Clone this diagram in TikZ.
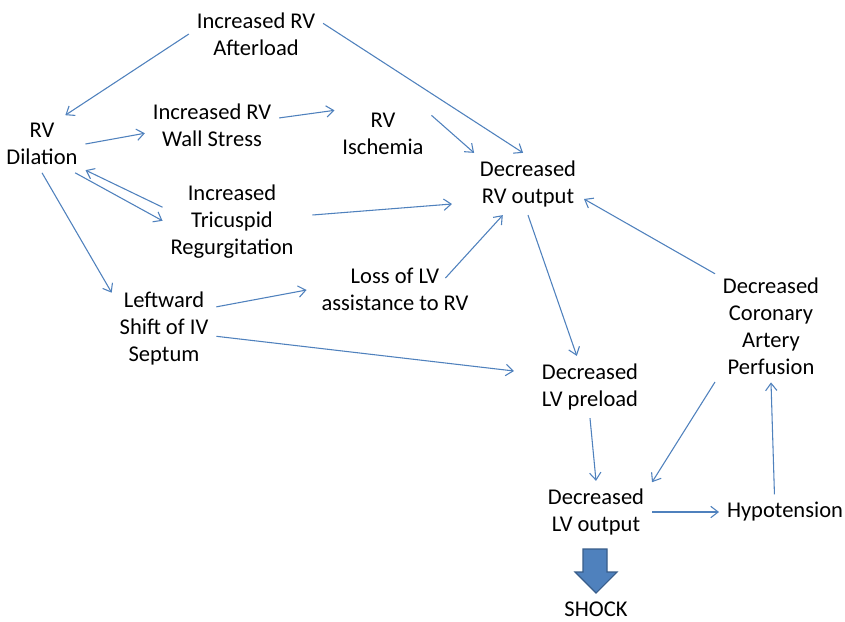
\documentclass[tikz,border=0pt]{standalone}
\usepackage{fontspec}
\setmainfont{Carlito}
\usetikzlibrary{arrows.meta}
\definecolor{linkblue}{RGB}{79,129,189}
\definecolor{shockedge}{RGB}{56,93,138}
\begin{document}
\begin{tikzpicture}[x=0.75pt,y=-0.75pt,
		box/.style={align=center,inner sep=0pt,outer sep=6pt,font=\myfontnodes},
		link/.style={draw=linkblue,line width=0.8pt,-{Straight Barb[length=5.5pt,width=8.5pt]}}]
	\newcommand{\myfontnodes}{\fontsize{16.9}{20.25}\selectfont}
	%Canvas
	\useasboundingbox[fill=white] (0,0) rectangle (845,621);
	%Positions of the boxes
	\coordinate (pafterload) at (256,34);
	\coordinate (pdilation) at (42,144);
	\coordinate (pwallstress) at (212,125);
	\coordinate (pischemia) at (383,134);
	\coordinate (prvout) at (528,184);
	\coordinate (ptricuspid) at (232,222);
	\coordinate (ploss) at (395,289);
	\coordinate (pleftward) at (164,328);
	\coordinate (ppreload) at (590,387);
	\coordinate (pcoronary) at (771,326);
	\coordinate (plvout) at (596,512);
	\coordinate (phypo) at (785,512);
	\coordinate (pshock) at (596,609);
	%The boxes
	\node [box] (afterload) at (pafterload) {Increased RV\\Afterload};
	\node [box] (dilation) at (pdilation) {RV\\Dilation};
	\node [box] (wallstress) at (pwallstress) {Increased RV\\Wall Stress};
	\node [box] (ischemia) at (pischemia) {RV\\Ischemia};
	\node [box] (rvout) at (prvout) {Decreased\\RV output};
	\node [box] (tricuspid) at (ptricuspid) {Increased\\Tricuspid\\Regurgitation};
	\node [box] (loss) at (ploss) {Loss of LV\\assistance to RV};
	\node [box] (leftward) at (pleftward) {Leftward\\Shift of IV\\Septum};
	\node [box] (preload) at (ppreload) {Decreased\\LV preload};
	\node [box] (coronary) at (pcoronary) {Decreased\\Coronary\\Artery\\Perfusion};
	\node [box] (lvout) at (plvout) {Decreased\\LV output};
	\node [box] (hypo) at (phypo) {Hypotension};
	\node [box] (shock) at (pshock) {SHOCK};
	%Arrows on the right ventricle side
	\draw [link] (afterload.180) -- (dilation.51);
	\draw [link] (afterload.9) -- (rvout.99);
	\draw [link] (dilation.0) -- (wallstress.187);
	\draw [link] (wallstress.6) -- (ischemia.154);
	\draw [link] (ischemia.21) -- (rvout.150);
	\draw [link] (tricuspid.168) -- (dilation.329);
	\draw [link] (dilation.319) -- (tricuspid.179);
	\draw [link] ([shift={(11,-7)}]tricuspid.east) -- ([shift={(-20,20)}]rvout.west);
	\draw [link] (dilation.270) -- (leftward.146);
	\draw [link] (leftward.22) -- ([shift={(-7,1)}]loss.west);
	\draw [link] ([shift={(-31,-11)}]loss.east) -- (rvout.231);
	%Arrows on the left ventricle side
	\draw [link] (leftward.351) -- ([shift={(-20,-16)}]preload.west);
	\draw [link] (rvout.270) -- (preload.113);
	\draw [link] (coronary.137) -- (rvout.345);
	\draw [link] (preload.270) -- (lvout.90);
	\draw [link] (coronary.225) -- (lvout.28);
	\draw [link] (lvout.0) -- (hypo.180);
	\draw [link] (hypo.121) -- (coronary.270);
	%Block arrow down to the shock
	\filldraw [fill=linkblue,draw=shockedge,line width=0.8pt]
		(583,549) -- (607,549) -- (607,572) -- (617,572) -- (596,593)
		-- (575,572) -- (583,572) -- cycle;
\end{tikzpicture}
\end{document}
